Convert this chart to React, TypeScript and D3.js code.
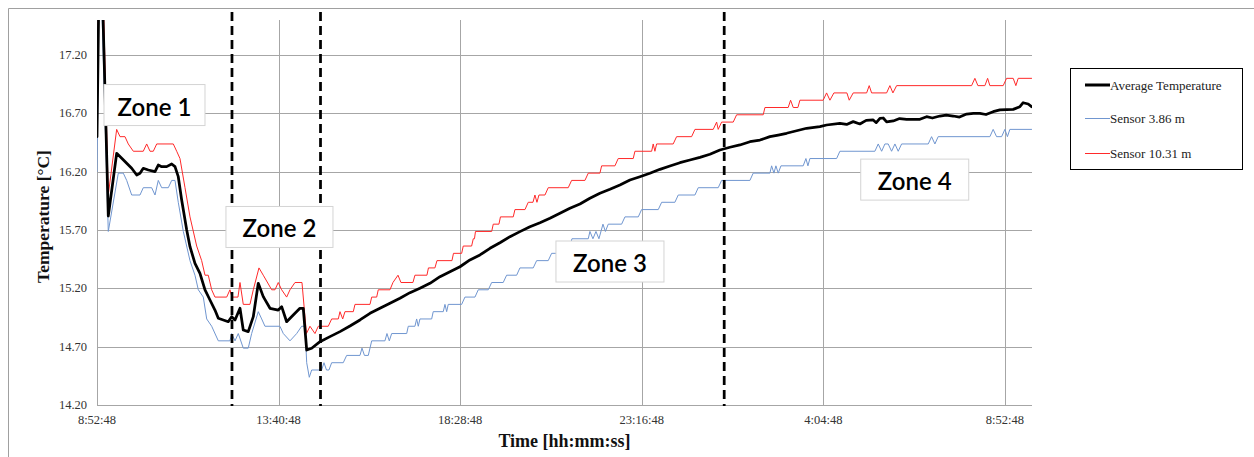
import React from "react";
import * as d3 from "d3";

// Elapsed minutes since the first reading (08:52:48) and temperatures in °C.
const xTickMinutes = [0, 288, 576, 864, 1152, 1440];
const xTickLabels = ["8:52:48", "13:40:48", "18:28:48", "23:16:48", "4:04:48", "8:52:48"];
const yTickValues = [14.2, 14.7, 15.2, 15.7, 16.2, 16.7, 17.2];

const avgMinutes = [
  0, 4.8, 17.9, 31.2, 39.2, 47.1, 55.0, 63.0, 68.2, 73.4, 81.4, 92.0, 97.2, 102.6, 110.5, 118.5, 123.7,
  128.9, 134.3, 142.3, 147.5, 155.4, 163.3, 171.3, 179.2, 187.1, 192.4, 200.3, 208.2, 213.6, 218.9, 226.8,
  232.0, 239.9, 247.9, 255.8, 263.7, 274.4, 287.5, 292.9, 300.8, 311.3, 321.9, 327.2, 332.6, 340.5, 353.7,
  369.5, 385.4, 401.2, 417.1, 433.0, 448.8, 464.7, 480.5, 496.4, 512.2, 528.1, 544.0, 559.8, 575.7, 591.5,
  607.4, 623.3, 639.1, 655.0, 670.8, 686.7, 702.6, 718.4, 734.3, 750.1, 766.0, 781.8, 797.7, 813.6, 829.4,
  845.3, 861.1, 877.0, 892.9, 908.7, 924.6, 940.4, 956.3, 972.2, 988.0, 1003.9, 1019.7, 1035.6, 1051.5,
  1067.3, 1080.5, 1093.8, 1109.7, 1125.5, 1146.6, 1157.2, 1178.3, 1189.0, 1199.4, 1210.0, 1220.0, 1231.1,
  1236.0, 1241.8, 1247.0, 1252.4, 1263.0, 1273.0, 1284.1, 1305.2, 1315.8, 1325.0, 1336.9, 1347.0, 1358.0,
  1368.0, 1379.3, 1390.0, 1400.3, 1410.0, 1421.4, 1432.1, 1453.2, 1463.8, 1469.0, 1477.0, 1482.3,
];
const avgTemps = [
  16.5, 18.5, 15.82, 16.357, 16.315, 16.272, 16.229, 16.171, 16.186, 16.229, 16.214, 16.2, 16.257, 16.243,
  16.243, 16.266, 16.243, 16.157, 15.957, 15.7, 15.557, 15.414, 15.329, 15.186, 15.1, 15.014, 14.943,
  14.929, 14.914, 14.957, 14.929, 15.029, 14.843, 14.829, 14.957, 15.243, 15.129, 15.029, 15.014, 15.043,
  14.914, 14.971, 15.029, 15.029, 14.671, 14.686, 14.743, 14.786, 14.829, 14.877, 14.929, 14.986, 15.029,
  15.072, 15.115, 15.163, 15.2, 15.243, 15.3, 15.343, 15.385, 15.443, 15.486, 15.543, 15.591, 15.643,
  15.686, 15.728, 15.763, 15.8, 15.843, 15.886, 15.923, 15.972, 16.015, 16.049, 16.086, 16.129, 16.157,
  16.186, 16.22, 16.249, 16.277, 16.3, 16.323, 16.349, 16.386, 16.409, 16.429, 16.457, 16.471, 16.5,
  16.514, 16.529, 16.551, 16.572, 16.586, 16.6, 16.614, 16.605, 16.629, 16.609, 16.64, 16.643, 16.62,
  16.657, 16.66, 16.626, 16.635, 16.655, 16.649, 16.649, 16.671, 16.66, 16.677, 16.685, 16.677, 16.668,
  16.694, 16.7, 16.7, 16.69, 16.714, 16.729, 16.734, 16.757, 16.791, 16.78, 16.757,
];

const sensor386Minutes = [
  0, 4.0, 17.9, 33.8, 41.7, 47.1, 55.0, 68.2, 73.4, 86.7, 92.0, 97.2, 102.6, 113.1, 118.5, 123.7, 128.9,
  136.9, 147.5, 155.4, 160.7, 168.6, 174.0, 181.9, 192.4, 210.9, 213.6, 218.9, 224.1, 232.0, 239.9, 245.3,
  255.8, 261.2, 266.4, 290.2, 295.5, 306.1, 316.7, 324.6, 329.9, 332.6, 336.7, 340.5, 356.3, 360.0, 364.0,
  367.9, 372.2, 390.6, 396.0, 417.1, 420.3, 424.2, 430.3, 435.7, 456.7, 459.9, 463.6, 467.4, 491.2, 493.7,
  504.3, 507.0, 509.6, 512.2, 530.8, 533.3, 549.2, 551.9, 554.6, 557.1, 578.4, 583.6, 599.5, 604.7, 620.6,
  626.0, 644.3, 649.7, 665.6, 670.8, 691.9, 697.3, 715.7, 721.1, 734.3, 737.4, 750.1, 753.3, 779.2, 781.8,
  786.6, 791.4, 796.1, 802.5, 806.4, 810.9, 832.1, 837.4, 858.5, 863.8, 890.2, 895.6, 916.6, 921.9, 948.4,
  953.6, 985.3, 990.7, 1035.6, 1040.8, 1067.3, 1070.0, 1073.7, 1076.8, 1080.5, 1084.8, 1120.1, 1124.4,
  1127.6, 1130.7, 1173.1, 1178.3, 1233.8, 1239.1, 1244.5, 1249.7, 1254.9, 1260.3, 1265.6, 1270.8, 1276.2,
  1318.4, 1323.7, 1329.0, 1334.2, 1416.2, 1421.4, 1426.8, 1434.8, 1440.0, 1444.0, 1447.9, 1482.3,
];
const sensor386Temps = [
  16.2, 18.3, 15.6875, 16.1875, 16.1875, 16.125, 16.0, 16.0, 16.0625, 16.0625, 16.0, 16.125, 16.0625,
  16.0625, 16.125, 16.125, 15.9375, 15.6875, 15.4375, 15.3125, 15.1875, 15.125, 14.9375, 14.875, 14.75,
  14.75, 14.8125, 14.75, 14.8125, 14.6875, 14.6875, 14.8125, 15.0, 14.9375, 14.875, 14.875, 14.8125,
  14.75, 14.8125, 14.875, 14.875, 14.5625, 14.4375, 14.5, 14.5, 14.5625, 14.5, 14.5, 14.5625, 14.5625,
  14.625, 14.625, 14.6875, 14.625, 14.625, 14.75, 14.75, 14.8125, 14.75, 14.8125, 14.8125, 14.875, 14.875,
  14.9375, 14.875, 14.9375, 14.9375, 15.0, 15.0, 15.0625, 15.0, 15.0625, 15.0625, 15.125, 15.125, 15.1875,
  15.1875, 15.25, 15.25, 15.3125, 15.3125, 15.375, 15.375, 15.4375, 15.4375, 15.5, 15.5, 15.5625, 15.5625,
  15.625, 15.625, 15.6875, 15.625, 15.6875, 15.625, 15.75, 15.6875, 15.75, 15.75, 15.8125, 15.8125, 15.875,
  15.875, 15.9375, 15.9375, 16.0, 16.0, 16.0625, 16.0625, 16.125, 16.125, 16.1875, 16.1875, 16.25,
  16.1875, 16.25, 16.1875, 16.25, 16.25, 16.3125, 16.25, 16.3125, 16.3125, 16.375, 16.375, 16.4375,
  16.375, 16.4375, 16.4375, 16.375, 16.4375, 16.375, 16.4375, 16.4375, 16.5, 16.4375, 16.5, 16.5,
  16.5625, 16.5, 16.5, 16.5625, 16.5, 16.5625, 16.5625,
];

const sensor1031Minutes = [
  0, 4.8, 17.9, 31.2, 36.5, 44.4, 49.6, 57.6, 73.4, 78.8, 84.1, 89.3, 94.7, 121.0, 126.4, 131.6, 139.6,
  147.5, 158.1, 166.0, 171.3, 176.5, 181.9, 187.1, 205.7, 210.9, 214.1, 223.6, 226.8, 232.0, 242.6, 247.9,
  256.9, 263.7, 277.1, 282.3, 287.5, 292.9, 300.8, 306.1, 314.0, 325.1, 332.2, 337.8, 345.7, 351.0, 366.8,
  372.2, 382.7, 385.4, 389.7, 393.3, 406.5, 409.2, 433.0, 435.7, 443.6, 446.1, 464.7, 469.4, 477.4, 482.1,
  501.1, 504.3, 523.3, 525.7, 536.0, 539.2, 563.0, 565.4, 578.4, 580.9, 594.2, 596.8, 598.7, 600.3, 626.0,
  628.5, 637.5, 639.9, 660.2, 662.9, 678.8, 684.0, 691.5, 694.6, 697.8, 701.0, 710.5, 715.7, 747.4, 752.8,
  773.9, 779.2, 797.7, 800.4, 821.5, 826.7, 850.5, 853.2, 879.7, 882.2, 884.9, 887.6, 913.9, 919.3, 943.1,
  948.4, 977.4, 982.8, 985.3, 990.7, 1009.1, 1014.5, 1056.7, 1059.4, 1096.3, 1100.1, 1104.3, 1111.7,
  1114.9, 1151.8, 1157.2, 1162.5, 1168.8, 1189.4, 1193.1, 1199.4, 1220.7, 1224.8, 1228.6, 1252.4, 1257.6,
  1262.4, 1268.3, 1387.2, 1392.4, 1397.2, 1408.3, 1412.6, 1416.2, 1437.3, 1442.7, 1453.2, 1457.4, 1461.1,
  1482.3,
];
const sensor1031Temps = [
  16.6, 18.8, 16.0, 16.5625, 16.5, 16.5, 16.4375, 16.375, 16.375, 16.4375, 16.375, 16.375, 16.4375,
  16.4375, 16.375, 16.3125, 16.0625, 15.8125, 15.5625, 15.4375, 15.3125, 15.3125, 15.1875, 15.125, 15.125,
  15.1875, 15.125, 15.125, 15.25, 15.0625, 15.0625, 15.1875, 15.375, 15.3125, 15.1875, 15.1875, 15.25,
  15.1875, 15.125, 15.1875, 15.25, 15.25, 14.8125, 14.875, 14.8125, 14.875, 14.875, 14.9375, 14.9375, 15.0,
  14.9375, 15.0, 15.0, 15.0625, 15.0625, 15.125, 15.125, 15.1875, 15.1875, 15.25, 15.3125, 15.25, 15.25,
  15.3125, 15.3125, 15.375, 15.375, 15.4375, 15.4375, 15.5, 15.5, 15.5625, 15.5625, 15.625, 15.625,
  15.6875, 15.6875, 15.75, 15.75, 15.8125, 15.8125, 15.875, 15.875, 15.9375, 15.9375, 16.0, 15.9375, 16.0,
  16.0, 16.0625, 16.0625, 16.125, 16.125, 16.1875, 16.1875, 16.25, 16.25, 16.3125, 16.3125, 16.375,
  16.375, 16.4375, 16.375, 16.4375, 16.4375, 16.5, 16.5, 16.5625, 16.5625, 16.625, 16.5625, 16.625,
  16.625, 16.6875, 16.6875, 16.75, 16.75, 16.8125, 16.75, 16.75, 16.8125, 16.8125, 16.875, 16.8125,
  16.875, 16.875, 16.8125, 16.875, 16.875, 16.9375, 16.875, 16.875, 16.9375, 16.875, 16.9375, 16.9375,
  17.0, 16.9375, 16.9375, 17.0, 16.9375, 16.9375, 17.0, 17.0, 16.9375, 17.0, 17.0,
];

// Zone boundaries (dashed lines) and zone annotations
const zoneBoundaryMinutes = [214.1, 354.5, 994.8];
const zoneNames = ["Zone 1", "Zone 2", "Zone 3", "Zone 4"];
const zoneLabelMinutes = [91.2, 289.4, 813.6, 1297.0];
const zoneLabelTemps = [16.771, 15.726, 15.43, 16.132];

const legendNames = ["Average Temperature", "Sensor 3.86 m", "Sensor 10.31 m"];

const SERIF = "'Liberation Serif', 'Times New Roman', serif";
const AVG_COLOR = "#000000";
const BLUE = "#7096d0";
const RED = "#ff2a2a";
const GRID = "#a6a6a6";

const zip = (xs: number[], ys: number[]): [number, number][] => xs.map((t, i) => [t, ys[i]]);

export default function App() {
  const width = 1254;
  const height = 457;
  const left = 97;
  const right = 1032;
  const top = 20;
  const bottom = 405;

  const x = d3.scaleLinear().domain([0, 1483]).range([left, right]);
  const y = d3.scaleLinear().domain([14.2, 17.5]).range([bottom, top]);

  const line = d3
    .line<[number, number]>()
    .x((d) => x(d[0]))
    .y((d) => y(d[1]));

  const series = [
    { name: legendNames[1], color: BLUE, width: 1, d: line(zip(sensor386Minutes, sensor386Temps)) },
    { name: legendNames[2], color: RED, width: 1, d: line(zip(sensor1031Minutes, sensor1031Temps)) },
    { name: legendNames[0], color: AVG_COLOR, width: 2.75, d: line(zip(avgMinutes, avgTemps)) },
  ];

  const legendItems = [
    { name: legendNames[0], color: AVG_COLOR, width: 3 },
    { name: legendNames[1], color: BLUE, width: 1 },
    { name: legendNames[2], color: RED, width: 1 },
  ];
  const legendRowY = [85, 118.5, 153.5];
  const zoneBoxWidths = [101, 107, 108, 108];

  return (
    <svg
      width={width}
      height={height}
      style={{ position: "absolute", left: 0, top: 0, background: "#fff" }}
      xmlns="http://www.w3.org/2000/svg"
    >
      <defs>
        <clipPath id="plot-clip">
          <rect x={left} y={top} width={right - left} height={bottom - top} />
        </clipPath>
      </defs>
      <rect x={0} y={0} width={width} height={height} fill="#fff" />
      {/* chart frame */}
      <path d={`M8.5,${height} V8.5 H${width}`} fill="none" stroke="#a0a0a0" strokeWidth={1} />

      {/* horizontal gridlines */}
      {yTickValues.map((v) => (
        <line
          key={`hy${v}`}
          x1={left}
          x2={right}
          y1={Math.round(y(v)) + 0.5}
          y2={Math.round(y(v)) + 0.5}
          stroke={GRID}
          strokeWidth={1}
        />
      ))}
      {/* vertical gridlines */}
      {xTickMinutes.map((m) => (
        <line
          key={`vx${m}`}
          x1={Math.round(x(m)) + 0.5}
          x2={Math.round(x(m)) + 0.5}
          y1={top}
          y2={bottom}
          stroke={GRID}
          strokeWidth={1}
        />
      ))}

      {/* y tick labels */}
      {yTickValues.map((v) => (
        <text
          key={`ty${v}`}
          x={87}
          y={y(v)}
          textAnchor="end"
          dominantBaseline="central"
          fontFamily={SERIF}
          fontSize={12.5}
          fill="#333"
        >
          {v.toFixed(2)}
        </text>
      ))}
      {/* x tick labels */}
      {xTickMinutes.map((m, i) => (
        <text
          key={`tx${i}`}
          x={x(m)}
          y={424}
          textAnchor="middle"
          fontFamily={SERIF}
          fontSize={12.5}
          fill="#333"
        >
          {xTickLabels[i]}
        </text>
      ))}

      {/* axis titles */}
      <text
        x={(left + right) / 2}
        y={447}
        textAnchor="middle"
        fontFamily={SERIF}
        fontWeight="bold"
        fontSize={18}
        fill="#111"
      >
        Time [hh:mm:ss]
      </text>
      <text
        transform={`translate(49, ${(top + bottom) / 2 + 4}) rotate(-90)`}
        textAnchor="middle"
        fontFamily={SERIF}
        fontWeight="bold"
        fontSize={17.5}
        fill="#111"
      >
        Temperature [°C]
      </text>

      {/* series */}
      <g clipPath="url(#plot-clip)">
        {series.map((s) => (
          <path
            key={s.name}
            d={s.d || ""}
            fill="none"
            stroke={s.color}
            strokeWidth={s.width}
            strokeLinejoin="round"
            strokeLinecap="round"
          />
        ))}
      </g>

      {/* zone boundaries */}
      {zoneBoundaryMinutes.map((m) => (
        <line
          key={`zb${m}`}
          x1={x(m)}
          x2={x(m)}
          y1={12}
          y2={406}
          stroke="#000"
          strokeWidth={2.75}
          strokeDasharray="9,5"
        />
      ))}

      {/* zone labels */}
      {zoneNames.map((name, i) => {
        const cx = x(zoneLabelMinutes[i]);
        const cy = y(zoneLabelTemps[i]);
        const w = zoneBoxWidths[i];
        const h = 41;
        return (
          <g key={name}>
            <rect
              x={cx - w / 2}
              y={cy - h / 2}
              width={w}
              height={h}
              fill="#fff"
              stroke="#d4d4d4"
              strokeWidth={1}
            />
            <text
              x={cx}
              y={cy + 1}
              textAnchor="middle"
              dominantBaseline="central"
              fontFamily="Lato, 'Open Sans', sans-serif"
              fontWeight={600}
              fontSize={24}
              fill="#000"
            >
              {name}
            </text>
          </g>
        );
      })}

      {/* legend */}
      <rect x={1070.5} y={68.5} width={172} height={101} fill="#fff" stroke="#000" strokeWidth={1} />
      {legendItems.map((item, i) => (
        <g key={item.name}>
          <line
            x1={1085}
            x2={1110}
            y1={legendRowY[i]}
            y2={legendRowY[i]}
            stroke={item.color}
            strokeWidth={item.width}
          />
          <text
            x={1110}
            y={legendRowY[i]}
            dominantBaseline="central"
            fontFamily={SERIF}
            fontSize={13}
            fill="#222"
          >
            {item.name}
          </text>
        </g>
      ))}
    </svg>
  );
}
